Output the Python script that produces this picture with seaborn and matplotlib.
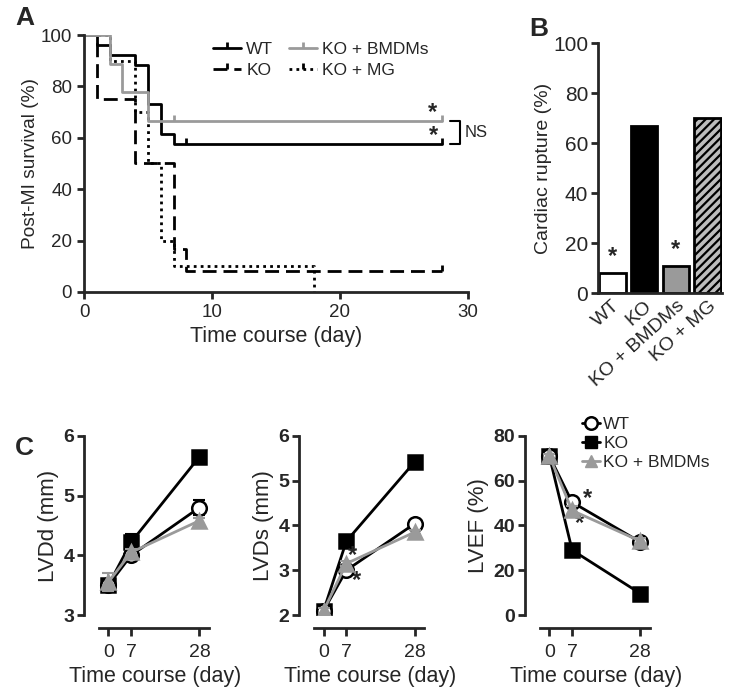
import numpy as np
import pandas as pd
import matplotlib
matplotlib.use("Agg")
import matplotlib.pyplot as plt
from matplotlib.path import Path
from matplotlib.lines import Line2D
import seaborn as sns

sns.set_theme(style="ticks")
plt.rcParams['font.family'] = ['Liberation Sans', 'DejaVu Sans']
plt.rcParams['hatch.linewidth'] = 1.6
plt.rcParams['axes.linewidth'] = 2.0

# ---------------- Data ----------------
# Panel A: Kaplan-Meier survival (%)
wt_t = [0, 1, 2, 4, 5, 6, 7, 28]
wt_s = [100, 96.2, 92.3, 88.5, 73.1, 61.5, 57.7, 57.7]
ko_t = [0, 1, 4, 7, 8, 28]
ko_s = [100, 75, 50, 16.7, 8.3, 8.3]
bm_t = [0, 2, 3, 5, 28]
bm_s = [100, 88.9, 77.8, 66.7, 66.7]
mg_t = [0, 2, 4, 5, 6, 7, 18]
mg_s = [100, 90, 70, 50, 20, 10, 0]
wt_cens_t = [8, 28]
wt_cens_s = [57.7, 57.7]
bm_cens_t = [7, 28]
bm_cens_s = [66.7, 66.7]
ko_cens_t = [28]
ko_cens_s = [8.3]

# Panel B: cardiac rupture (%)
rupture_groups = ["WT", "KO", "KO + BMDMs", "KO + MG"]
rupture_vals = [8, 67, 11, 70]

# Panel C: echo parameters
days = [0, 7, 28]
lvdd_wt = [3.5, 4.0, 4.8]
lvdd_ko = [3.5, 4.22, 5.65]
lvdd_bm = [3.55, 4.05, 4.58]
lvdd_wt_err = [0.06, 0.1, 0.13]
lvdd_ko_err = [0.05, 0.14, 0.05]
lvdd_bm_err = [0.15, 0.06, 0.05]

lvds_wt = [2.1, 3.0, 4.04]
lvds_ko = [2.1, 3.65, 5.42]
lvds_bm = [2.1, 3.15, 3.85]
lvds_wt_err = [0.05, 0.08, 0.06]
lvds_ko_err = [0.05, 0.08, 0.05]
lvds_bm_err = [0.05, 0.06, 0.05]

lvef_wt = [71, 50.4, 32.6]
lvef_ko = [71, 29, 9.6]
lvef_bm = [71, 46.7, 33]
lvef_wt_err = [1, 2, 1.5]
lvef_ko_err = [1, 1.5, 1]
lvef_bm_err = [1, 2, 1.5]

GRAY = "#9a9a9a"

fig = plt.figure(figsize=(7.5, 6.95), dpi=100)

# ---------------- Panel A ----------------
axA = fig.add_axes([0.112, 0.580, 0.512, 0.3696])
up_tick = Path([(0, 0), (0, 1)], [Path.MOVETO, Path.LINETO])

def km(t, s, **kw):
    df = pd.DataFrame({"t": t, "s": s})
    sns.lineplot(data=df, x="t", y="s", ax=axA, drawstyle="steps-post",
                 estimator=None, sort=False, **kw)

km(ko_t, ko_s, color="black", linestyle=(0, (5, 2.5)), linewidth=2.0)
km(mg_t, mg_s, color="black", linestyle=(0, (1, 1.5)), linewidth=2.0)
km(wt_t, wt_s, color="black", linestyle="-", linewidth=2.0)
km(bm_t, bm_s, color=GRAY, linestyle="-", linewidth=2.0)
axA.plot(wt_cens_t, wt_cens_s, linestyle="none", marker=up_tick, ms=9, mew=2, color="black")
axA.plot(bm_cens_t, bm_cens_s, linestyle="none", marker=up_tick, ms=9, mew=2, color=GRAY)
axA.plot(ko_cens_t, ko_cens_s, linestyle="none", marker=up_tick, ms=9, mew=2, color="black")

axA.set_xlim(0, 30)
axA.set_ylim(0, 100)
axA.set_xticks([0, 10, 20, 30])
axA.set_yticks([0, 20, 40, 60, 80, 100])
axA.set_xlabel("Time course (day)", fontsize=15.5, labelpad=4)
axA.set_ylabel("Post-MI survival (%)", fontsize=13.8, labelpad=1)
axA.tick_params(labelsize=13.5, width=2, length=5, pad=3.5)
sns.despine(ax=axA)
axA.text(27.2, 70, "*", fontsize=17, fontweight="bold", ha="center", va="center")
axA.text(27.3, 61, "*", fontsize=17, fontweight="bold", ha="center", va="center")
axA.plot([28.6, 29.4, 29.4, 28.6], [66.4, 66.4, 57.5, 57.5], color="black",
         linewidth=1.5, clip_on=False)
axA.text(29.7, 62, "NS", fontsize=12, ha="left", va="center", clip_on=False)

hA = [Line2D([0], [0], color="black", lw=2, marker=up_tick, ms=9, mew=2, markevery=[1], linestyle="-"),
      Line2D([0], [0], color="black", lw=2, linestyle=(0, (5, 2.5)), marker=up_tick, ms=9, mew=2, markevery=[1]),
      Line2D([0], [0], color=GRAY, lw=2, marker=up_tick, ms=9, mew=2, markevery=[1]),
      Line2D([0], [0], color="black", lw=2, linestyle=(0, (1, 1.5)), marker=up_tick, ms=9, mew=2, markevery=[1])]
for h in hA:
    h.set_data([0, 0.5, 1], [0, 0, 0])
axA.legend(hA, ["WT", "KO", "KO + BMDMs", "KO + MG"], ncol=2, frameon=False,
           fontsize=12.5, loc="upper left", bbox_to_anchor=(0.296, 1.035),
           handlelength=1.6, handletextpad=0.3, columnspacing=0.9, labelspacing=0.35)

# ---------------- Panel B ----------------
axB = fig.add_axes([0.797, 0.578, 0.166, 0.360])
dfB = pd.DataFrame({"group": rupture_groups, "val": rupture_vals})
sns.barplot(data=dfB, x="group", y="val", ax=axB, width=0.84,
            palette=["white", "black", GRAY, "#bdbdbd"], hue="group", legend=False,
            edgecolor="black", linewidth=2)
axB.patches[3].set_hatch("////")
axB.set_xlim(-0.45, 3.45)
axB.set_ylim(0, 100)
axB.set_yticks([0, 20, 40, 60, 80, 100])
axB.set_xlabel("")
axB.set_ylabel("Cardiac rupture (%)", fontsize=14, labelpad=1)
axB.tick_params(axis="y", labelsize=15, width=2, length=5, pad=2)
axB.tick_params(axis="x", length=0, labelsize=14, pad=3)
plt.setp(axB.get_xticklabels(), rotation=42, ha="right", rotation_mode="anchor")
sns.despine(ax=axB)
axB.text(0, rupture_vals[0] + 2, "*", fontsize=17, fontweight="bold", ha="center", va="bottom")
axB.text(2, rupture_vals[2] + 2, "*", fontsize=17, fontweight="bold", ha="center", va="bottom")

# ---------------- Panel C ----------------
def echo(ax, wt, ko, bm, wte, koe, bme, ylim, yticks, ylabel):
    for vals, errs, col, mk, mfc, ms, z in [
            (ko, koe, "black", "s", "black", 10.5, 3),
            (wt, wte, "black", "o", "white", 10.5, 4),
            (bm, bme, GRAY, "^", GRAY, 10.5, 5)]:
        ax.errorbar(days, vals, yerr=errs, fmt="none", ecolor=col, elinewidth=1.5,
                    capsize=4, capthick=1.5, zorder=z)
        df = pd.DataFrame({"day": days, "v": vals})
        sns.lineplot(data=df, x="day", y="v", ax=ax, color=col, marker=mk,
                     markerfacecolor=mfc, markeredgecolor=col if mk != "o" else "black",
                     markersize=ms, markeredgewidth=1.8, linewidth=2, zorder=z)
    ax.set_xlim(-7.5, 31.5)
    ax.set_ylim(*ylim)
    ax.set_yticks(yticks)
    ax.set_xticks(days)
    ax.set_xticklabels([str(d) for d in days], fontweight="bold")
    ax.set_yticklabels([str(y) for y in yticks], fontweight="bold")
    ax.tick_params(axis="x", labelsize=14, width=2, length=6, pad=6)
    ax.tick_params(axis="y", labelsize=14, width=2, length=5, pad=2)
    ax.set_xlabel("Time course (day)", fontsize=15.5)
    ax.xaxis.set_label_coords(0.56, -0.285)
    ax.set_ylabel(ylabel, fontsize=16, labelpad=3)
    sns.despine(ax=ax)
    ax.spines["bottom"].set_position(("outward", 9))
    ax.spines["bottom"].set_bounds(-3, 31)

w, hgt, bot = 0.169, 0.2576, 0.1151
ax1 = fig.add_axes([0.112, bot, w, hgt])
echo(ax1, lvdd_wt, lvdd_ko, lvdd_bm, lvdd_wt_err, lvdd_ko_err, lvdd_bm_err,
     (3, 6), [3, 4, 5, 6], "LVDd (mm)")
ax2 = fig.add_axes([0.399, bot, w, hgt])
echo(ax2, lvds_wt, lvds_ko, lvds_bm, lvds_wt_err, lvds_ko_err, lvds_bm_err,
     (2, 6), [2, 3, 4, 5, 6], "LVDs (mm)")
ax2.text(9.0, 3.33, "*", fontsize=17, fontweight="bold", ha="center", va="center")
ax2.text(10.2, 2.78, "*", fontsize=17, fontweight="bold", ha="center", va="center")
ax3 = fig.add_axes([0.700, bot, w, hgt])
echo(ax3, lvef_wt, lvef_ko, lvef_bm, lvef_wt_err, lvef_ko_err, lvef_bm_err,
     (0, 80), [0, 20, 40, 60, 80], "LVEF (%)")
ax3.text(11.7, 52, "*", fontsize=17, fontweight="bold", ha="center", va="center")
ax3.text(9.2, 41, "*", fontsize=17, fontweight="bold", ha="center", va="center")

hC = [Line2D([0], [0], color="black", marker="o", mfc="white", mec="black", ms=9, mew=1.8, lw=2),
      Line2D([0], [0], color="black", marker="s", mfc="black", ms=9, lw=2),
      Line2D([0], [0], color=GRAY, marker="^", mfc=GRAY, mec=GRAY, ms=9, lw=2)]
fig.legend(hC, ["WT", "KO", "KO + BMDMs"], loc="upper left",
           bbox_to_anchor=(0.765, 0.413), frameon=False, fontsize=12.5,
           handlelength=1.0, handletextpad=0.2, labelspacing=0.22, borderpad=0)

# Panel letters
fig.text(0.020, 0.992, "A", fontsize=19, fontweight="bold", va="top")
fig.text(0.706, 0.975, "B", fontsize=19, fontweight="bold", va="top")
fig.text(0.020, 0.372, "C", fontsize=19, fontweight="bold", va="top")

fig.savefig("out.png", dpi=100)
